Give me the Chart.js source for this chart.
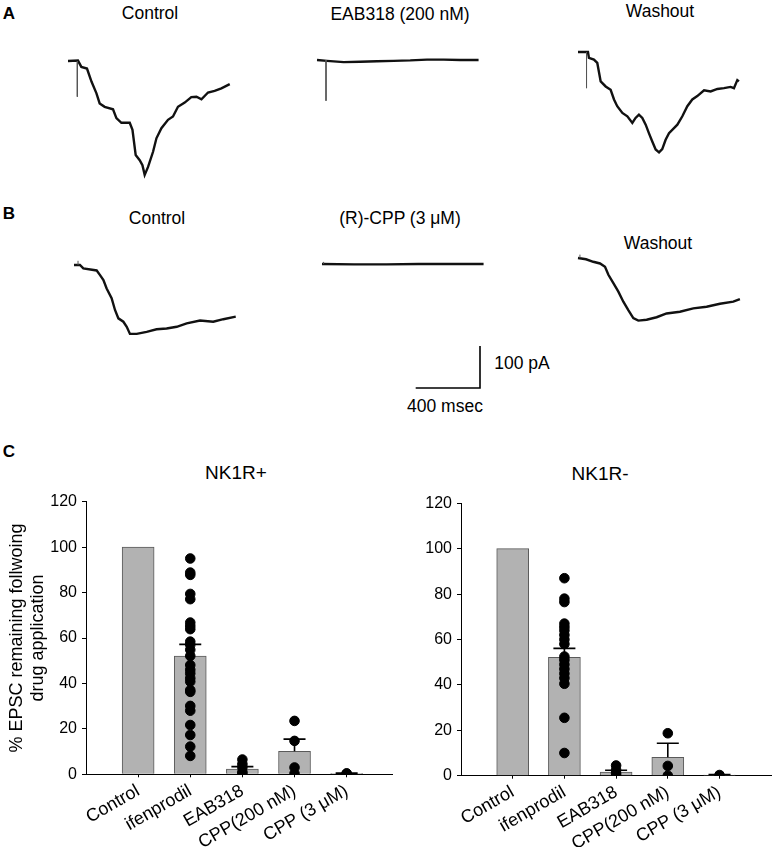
<!DOCTYPE html>
<html><head><meta charset="utf-8">
<script src="https://cdn.jsdelivr.net/npm/chart.js@4.4.1/dist/chart.umd.min.js"></script>
<style>
body{margin:0;background:#fff;}
#fig{position:relative;width:777px;height:847px;overflow:hidden;font-family:"Liberation Sans",Arial,sans-serif;color:#000;}
.box{position:absolute;}
.lbl{position:absolute;transform:translate(-50%,-50%);white-space:nowrap;font-size:17.5px;line-height:1;}
.panel{position:absolute;font-weight:bold;font-size:17px;line-height:1;transform:translate(-50%,-50%);}
</style></head>
<body><div id="fig">
<div class="panel" style="left:9px;top:13px">A</div>
<div class="panel" style="left:9px;top:213px">B</div>
<div class="panel" style="left:9px;top:451px">C</div>
<div class="lbl" style="left:150px;top:14px">Control</div>
<div class="lbl" style="left:400px;top:15px">EAB318 (200 nM)</div>
<div class="lbl" style="left:660px;top:12px">Washout</div>
<div class="lbl" style="left:157px;top:219px">Control</div>
<div class="lbl" style="left:400px;top:219px">(R)-CPP (3 μM)</div>
<div class="lbl" style="left:658px;top:244px">Washout</div>
<div class="lbl" style="left:522px;top:364px">100 pA</div>
<div class="lbl" style="left:445px;top:407px">400 msec</div>
<div class="lbl" style="left:236px;top:472px;font-size:19px">NK1R+</div>
<div class="lbl" style="left:600px;top:473px;font-size:19px">NK1R-</div>
<div id="traces"></div>
<div class="box" style="left:0px;top:480px;width:400px;height:367px"><canvas id="barL"></canvas></div>
<div class="box" style="left:395px;top:480px;width:382px;height:367px"><canvas id="barR"></canvas></div>
</div>
<script>
// ---------- Trace data: [time (ms), current (pA)] ----------
const traceA_control = [[0,0],[62,1],[83,-14],[118,-18],[146,-49],[177,-77],[197,-101],[228,-109],[280,-115],[301,-136],[332,-147],[384,-147],[401,-164],[421,-224],[446,-236],[463,-248],[477,-271],[498,-252],[529,-216],[550,-184],[581,-160],[622,-140],[653,-132],[684,-109],[726,-99],[767,-86],[799,-85],[830,-91],[871,-75],[912,-71],[954,-65],[1006,-55]];
const stimA_control = [[58,0],[58,-85]];
const traceA_eab318 = [[0,0],[62,-2],[166,-5],[269,-4],[373,-3],[477,-2],[580,-1],[684,1],[788,1],[891,0],[1005,0]];
const stimA_eab318 = [[56,0],[56,-97]];
const traceA_washout = [[0,0],[62,0],[68,-14],[99,-18],[120,-26],[141,-70],[172,-82],[203,-90],[224,-113],[244,-129],[276,-145],[307,-153],[338,-169],[358,-157],[379,-149],[400,-157],[421,-173],[441,-193],[462,-213],[483,-232],[504,-239],[524,-231],[545,-209],[566,-193],[597,-181],[618,-173],[649,-153],[680,-129],[711,-113],[742,-105],[784,-91],[825,-94],[867,-88],[908,-86],[949,-83],[970,-86],[991,-67],[1001,-70]];
const stimA_washout = [[53,0],[53,-86]];
const traceB_control = [[0,0],[37,0],[58,-8],[141,-13],[162,-24],[183,-36],[203,-56],[234,-79],[255,-107],[276,-127],[307,-135],[328,-147],[348,-164],[390,-164],[452,-159],[514,-153],[576,-151],[639,-147],[701,-139],[784,-132],[866,-135],[929,-129],[1006,-123]];
const stimB_control = [[25,0],[25,10]];
const traceB_cpp = [[0,0],[200,-1],[400,-1],[600,0],[800,0],[1005,0]];
const stimB_cpp = [[10,0],[10,5]];
const traceB_washout = [[0,0],[50,-3],[95,-9],[137,-13],[168,-21],[189,-40],[220,-60],[251,-80],[282,-104],[313,-124],[344,-143],[375,-149],[427,-147],[489,-141],[551,-132],[634,-128],[717,-120],[800,-116],[883,-109],[966,-104],[1007,-98]];
const stimB_washout = [[12,0],[12,8]];
const scaleBarMs = 400;
const scaleBarPa = 100;

// ---------- Bar chart data ----------
const categories = ['Control','ifenprodil','EAB318','CPP(200 nM)','CPP (3 μM)'];
const yTicks = [0,20,40,60,80,100,120];
const plusMeans = [100, 52, 2.3, 10.1, 0.3];
const plusSem   = [0, 5.2, 1.1, 5.4, 0.2];
const plusIfenprodil = [95,88.8,87.8,79.4,77.1,66.8,65.3,63.9,58.4,57,54.8,52.1,48.1,46,44.4,42.3,40.8,37.1,36.3,30.1,28,21.7,17.3,12.2,8.1];
const plusEAB318 = [6.5,4.5,3,1,0];
const plusCPP200 = [23.5,14.7,3,0.3];
const plusCPP3 = [0.4,0.2];
const minusMeans = [100, 52.2, 1.6, 8.1, 0.3];
const minusSem   = [0, 3.9, 0.8, 6.2, 0.2];
const minusIfenprodil = [87,78,76.5,67,65.5,64,62,60,58,52.5,51,49,47,45,43,40.5,25.5,10];
const minusEAB318 = [4.5,2.5,1,0];
const minusCPP200 = [18.7,4.3,0];
const minusCPP3 = [0.3];

// ---------- Layout (page pixels) ----------
const MS_PER_PX = 6.22, PA_PER_PX = 2.38;
Chart.defaults.font.family = '"Liberation Sans", Arial, sans-serif';
Chart.defaults.color = '#000';

const toXY = arr => arr.map(p => ({x:p[0], y:p[1]}));

function traceChart(ox, oy, w, h, padL, padT, datasets) {
  const holder = document.createElement('div');
  holder.className = 'box';
  holder.style.left = (ox - padL) + 'px';
  holder.style.top = (oy - padT) + 'px';
  holder.style.width = w + 'px';
  holder.style.height = h + 'px';
  const cv = document.createElement('canvas');
  holder.appendChild(cv);
  document.getElementById('traces').appendChild(holder);
  new Chart(cv, {
    type: 'line',
    data: { datasets },
    options: {
      animation: false, responsive: true, maintainAspectRatio: false,
      layout: { padding: 0 },
      plugins: { legend: {display:false}, tooltip: {enabled:false} },
      elements: { point: {radius:0}, line: {tension:0} },
      scales: {
        x: { type:'linear', display:false, min: -padL*MS_PER_PX, max: (w-padL)*MS_PER_PX },
        y: { type:'linear', display:false, min: -(h-padT)*PA_PER_PX, max: padT*PA_PER_PX }
      }
    }
  });
}
function tr(data){ return {data: toXY(data), borderColor:'#111', borderWidth:2.4, fill:false}; }
function st(data){ return {data: toXY(data), borderColor:'#555', borderWidth:1, fill:false}; }

traceChart(68.3, 61, 190, 140, 12, 14, [st(stimA_control), tr(traceA_control)]);
traceChart(316.7, 60, 190, 140, 12, 14, [st(stimA_eab318), tr(traceA_eab318)]);
traceChart(577.7, 52.3, 190, 140, 12, 14, [st(stimA_washout), tr(traceA_washout)]);
traceChart(74, 265, 190, 140, 12, 14, [st(stimB_control), tr(traceB_control)]);
traceChart(321.7, 264, 190, 140, 12, 14, [st(stimB_cpp), tr(traceB_cpp)]);
traceChart(578, 258, 190, 140, 12, 14, [st(stimB_washout), tr(traceB_washout)]);
// scale bar (corner at page 480, 387.7)
traceChart(480, 387.7, 90, 60, 75, 52, [{data: toXY([[-scaleBarMs,0],[0,0],[0,scaleBarPa]]), borderColor:'#000', borderWidth:1.6, fill:false}]);

// ---------- Error bars plugin ----------
const errBars = {
  id: 'errBars',
  afterDatasetDraw(chart, args) {
    const ds = chart.data.datasets[args.index];
    if (!ds.sems) return;
    const {ctx} = chart; const x = chart.scales.x, y = chart.scales.y;
    ctx.save(); ctx.strokeStyle = '#000'; ctx.lineWidth = 1.6;
    ds.data.forEach((d,i) => {
      const s = ds.sems[i]; if (!s) return;
      const px = x.getPixelForValue(d.x), p0 = y.getPixelForValue(d.y), p1 = y.getPixelForValue(d.y + s);
      ctx.beginPath(); ctx.moveTo(px,p0); ctx.lineTo(px,p1);
      ctx.moveTo(px-11,p1); ctx.lineTo(px+11,p1); ctx.stroke();
    });
    ctx.restore();
  }
};

function barChart(id, means, sems, groups, o) {
  const pts = [];
  groups.forEach((arr,i) => arr.forEach(v => pts.push({x:i+1, y:v})));
  new Chart(document.getElementById(id), {
    type: 'bar',
    data: { datasets: [
      { type:'scatter', data: pts, backgroundColor:'#000', borderColor:'#000', pointRadius:4.8, pointHoverRadius:4.8 },
      { type:'bar', data: means.map((m,i)=>({x:i+1, y:m})), sems, backgroundColor:'#b2b2b2', borderColor:'#5a5a5a', borderWidth:1, barThickness:32 }
    ]},
    options: {
      animation:false, responsive:true, maintainAspectRatio:false,
      layout: { padding: { top:o.padTop, right:o.padRight, left:0, bottom:0 } },
      plugins: { legend:{display:false}, tooltip:{enabled:false} },
      scales: {
        x: { type:'linear', min:0, max:o.xMax, offset:false,
             afterBuildTicks: s => { s.ticks = categories.map((c,i)=>({value:i+1})); },
             afterFit: s => { s.height = o.xH; },
             grid:{ offset:false, drawOnChartArea:false, drawTicks:true, tickLength:3, color:'#000' },
             border:{ color:'#000', width:1 },
             ticks:{ autoSkip:false, minRotation:30, maxRotation:30, padding:3, font:{size:18},
                     callback: v => categories[v-1] || '' } },
        y: { min:0, max:120,
             afterBuildTicks: s => { s.ticks = yTicks.map(v=>({value:v})); },
             afterFit: s => { s.width = o.yW; },
             grid:{ drawOnChartArea:false, drawTicks:true, tickLength:4, color:'#000' },
             border:{ color:'#000', width:1 },
             ticks:{ font:{size:16}, padding:5 },
             title: o.title ? { display:true, text:o.title, font:{size:18}, padding:{top:6,bottom:0} } : {display:false} }
      }
    },
    plugins: [errBars]
  });
}

barChart('barL', plusMeans, plusSem, [[], plusIfenprodil, plusEAB318, plusCPP200, plusCPP3],
  { padTop:21.7, padRight:8, xMax:5.87, xH:72.7, yW:86, title:['% EPSC remaining follwoing','drug application'] });
barChart('barR', minusMeans, minusSem, [[], minusIfenprodil, minusEAB318, minusCPP200, minusCPP3],
  { padTop:23.3, padRight:2, xMax:6.0, xH:71.3, yW:66, title:null });
</script>
</body></html>
